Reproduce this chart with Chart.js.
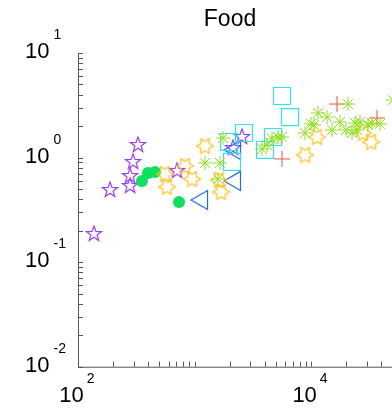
<!DOCTYPE html>
<html>
<head>
<meta charset="utf-8">
<script src="https://cdn.jsdelivr.net/npm/chart.js@4.4.1/dist/chart.umd.min.js"></script>
<style>
  html, body { margin: 0; padding: 0; overflow: hidden; background: #fff; }
  #wrap { width: 460px; height: 409px; }
</style>
</head>
<body>
<div id="wrap"><canvas id="chart" width="460" height="409"></canvas></div>
<script>
// values (x, y on log axes)
const pentagramX = [137, 188, 280, 280, 297, 327, 708, 2140, 2557];
const pentagramY = [0.186, 0.49, 0.535, 0.667, 0.908, 1.32, 0.745, 1.235, 1.573];

const circleX = [354, 399, 458, 736];
const circleY = [0.598, 0.713, 0.729, 0.376];

const triangleX = [1160, 2226, 2226];
const triangleY = [0.393, 0.598, 1.182];

const hexagramX = [558, 581, 829, 952, 1231, 1623, 1689, 8882, 11260, 27950, 32730];
const hexagramY = [0.697, 0.524, 0.831, 0.624, 1.29, 0.611, 0.469, 1.059, 1.573, 1.718, 1.41];

const squareX = [1978, 2098, 2660, 4029, 4718, 5637, 6602];
const squareY = [1.41, 0.908, 1.718, 1.182, 1.573, 3.88, 2.44];

const plusX = [5637, 16720, 36850];
const plusY = [0.97, 3.25, 2.39];

const asteriskX = [1231, 1591, 1655, 1756, 3796, 4192, 4627, 5208, 5637, 8882, 10000, 10612,
  11485, 13720, 15150, 17740, 19970, 20780, 22480, 23870, 24830, 26340, 30860, 33390, 39110, 50570];
const asteriskY = [0.888, 0.624, 0.888, 1.539, 1.208, 1.32, 1.506, 1.573, 1.573, 1.718, 2.1, 2.05,
  2.67, 2.44, 1.835, 2.19, 1.835, 3.25, 1.718, 2.14, 1.835, 2.19, 2.05, 2.14, 2.1, 3.55];

const xLabelPowers = [2, 4];
const yLabelPowers = [-2, -1, 0, 1];

const FONT = '"Liberation Sans", Arial, Helvetica, sans-serif';

function toPoints(xs, ys) {
  return xs.map((x, i) => ({ x: x, y: ys[i] }));
}

// outlined star marker drawn on a small canvas
function starMarker(n, outer, inner, color, startAngle) {
  const size = Math.ceil(outer * 2 + 4);
  const c = document.createElement("canvas");
  c.width = size;
  c.height = size;
  const g = c.getContext("2d");
  const cx = size / 2, cy = size / 2;
  g.beginPath();
  for (let i = 0; i < n * 2; i++) {
    const r = i % 2 === 0 ? outer : inner;
    const a = startAngle + (i * Math.PI) / n;
    const px = cx + r * Math.cos(a);
    const py = cy + r * Math.sin(a);
    if (i === 0) g.moveTo(px, py);
    else g.lineTo(px, py);
  }
  g.closePath();
  g.strokeStyle = color;
  g.lineWidth = 1.2;
  g.stroke();
  return c;
}

const pentagram = starMarker(5, 8, 3.3, "#9a3cff", -Math.PI / 2);
const hexagram = starMarker(6, 8.5, 4.8, "#ffbf1f", 0);

const axesPlugin = {
  id: "matlabAxes",
  afterDraw(chart) {
    const ctx = chart.ctx;
    const xs = chart.scales.x;
    const ys = chart.scales.y;
    const area = chart.chartArea;
    ctx.save();
    ctx.strokeStyle = "#555";
    ctx.lineWidth = 1;
    ctx.beginPath();
    ctx.moveTo(area.left + 0.5, area.top);
    ctx.lineTo(area.left + 0.5, area.bottom + 0.5);
    ctx.lineTo(area.right, area.bottom + 0.5);
    // minor + major ticks, inward
    for (let d = 2; d <= 5; d++) {
      for (let m = 1; m <= 9; m++) {
        const v = m * Math.pow(10, d);
        if (v < xs.min || v > xs.max) continue;
        const px = Math.round(xs.getPixelForValue(v)) + 0.5;
        ctx.moveTo(px, area.bottom);
        ctx.lineTo(px, area.bottom - 5);
      }
    }
    for (let d = -2; d <= 1; d++) {
      for (let m = 1; m <= 9; m++) {
        const v = m * Math.pow(10, d);
        if (v < ys.min - 1e-9 || v > ys.max + 1e-9) continue;
        const py = Math.round(ys.getPixelForValue(v)) + 0.5;
        ctx.moveTo(area.left, py);
        ctx.lineTo(area.left + 5, py);
      }
    }
    ctx.stroke();

    ctx.fillStyle = "#000";
    ctx.textBaseline = "alphabetic";
    ctx.textAlign = "left";
    xLabelPowers.forEach((p) => {
      const px = xs.getPixelForValue(Math.pow(10, p));
      ctx.font = "22px " + FONT;
      const w10 = ctx.measureText("10").width;
      ctx.font = "14px " + FONT;
      const wExp = ctx.measureText(String(p)).width;
      const left = px - (w10 + 3 + wExp) / 2 - 1;
      ctx.font = "22px " + FONT;
      ctx.fillText("10", left, area.bottom + 35);
      ctx.font = "14px " + FONT;
      ctx.fillText(String(p), left + w10 + 3, area.bottom + 16);
    });
    yLabelPowers.forEach((p) => {
      const py = ys.getPixelForValue(Math.pow(10, p));
      const left = area.left - 53;
      ctx.font = "22px " + FONT;
      const w10 = ctx.measureText("10").width;
      ctx.fillText("10", left, py + 5);
      ctx.font = "14px " + FONT;
      ctx.fillText(String(p), left + w10 + 4, py - 14);
    });
    ctx.restore();
  },
};

new Chart(document.getElementById("chart"), {
  type: "scatter",
  data: {
    datasets: [
      {
        data: toPoints(asteriskX, asteriskY),
        pointStyle: "star",
        pointRadius: 7,
        borderColor: "#8ee21a",
        backgroundColor: "#8ee21a",
        borderWidth: 1,
      },
      {
        data: toPoints(plusX, plusY),
        pointStyle: "cross",
        pointRadius: 8,
        borderColor: "#f0503c",
        borderWidth: 1,
      },
      {
        data: toPoints(squareX, squareY),
        pointStyle: "rect",
        pointRadius: 12,
        borderColor: "#2ee6e6",
        backgroundColor: "rgba(0,0,0,0)",
        borderWidth: 1.2,
      },
      {
        data: toPoints(hexagramX, hexagramY),
        pointStyle: hexagram,
      },
      {
        data: toPoints(triangleX, triangleY),
        pointStyle: "triangle",
        rotation: -90,
        pointRadius: 11,
        borderColor: "#1f6bff",
        backgroundColor: "rgba(0,0,0,0)",
        borderWidth: 1.2,
      },
      {
        data: toPoints(circleX, circleY),
        pointStyle: "circle",
        pointRadius: 6,
        borderColor: "#0de05a",
        backgroundColor: "#0de05a",
        borderWidth: 0,
      },
      {
        data: toPoints(pentagramX, pentagramY),
        pointStyle: pentagram,
      },
    ],
  },
  options: {
    responsive: false,
    animation: false,
    events: [],
    layout: { padding: 0, autoPadding: false },
    plugins: {
      legend: { display: false },
      tooltip: { enabled: false },
      title: {
        display: true,
        text: "Food",
        color: "#000",
        font: { family: FONT, size: 23, weight: "normal", lineHeight: 1.2 },
        padding: { top: 6, bottom: 19.4 },
      },
    },
    scales: {
      x: {
        type: "logarithmic",
        min: 100,
        max: 190000,
        ticks: { display: false },
        grid: { display: false },
        border: { display: false },
        afterFit: (s) => { s.height = 42.3; },
      },
      y: {
        type: "logarithmic",
        min: 0.01,
        max: 10,
        ticks: { display: false },
        grid: { display: false },
        border: { display: false },
        afterFit: (s) => { s.width = 78; },
      },
    },
  },
  plugins: [axesPlugin],
});
</script>
</body>
</html>
